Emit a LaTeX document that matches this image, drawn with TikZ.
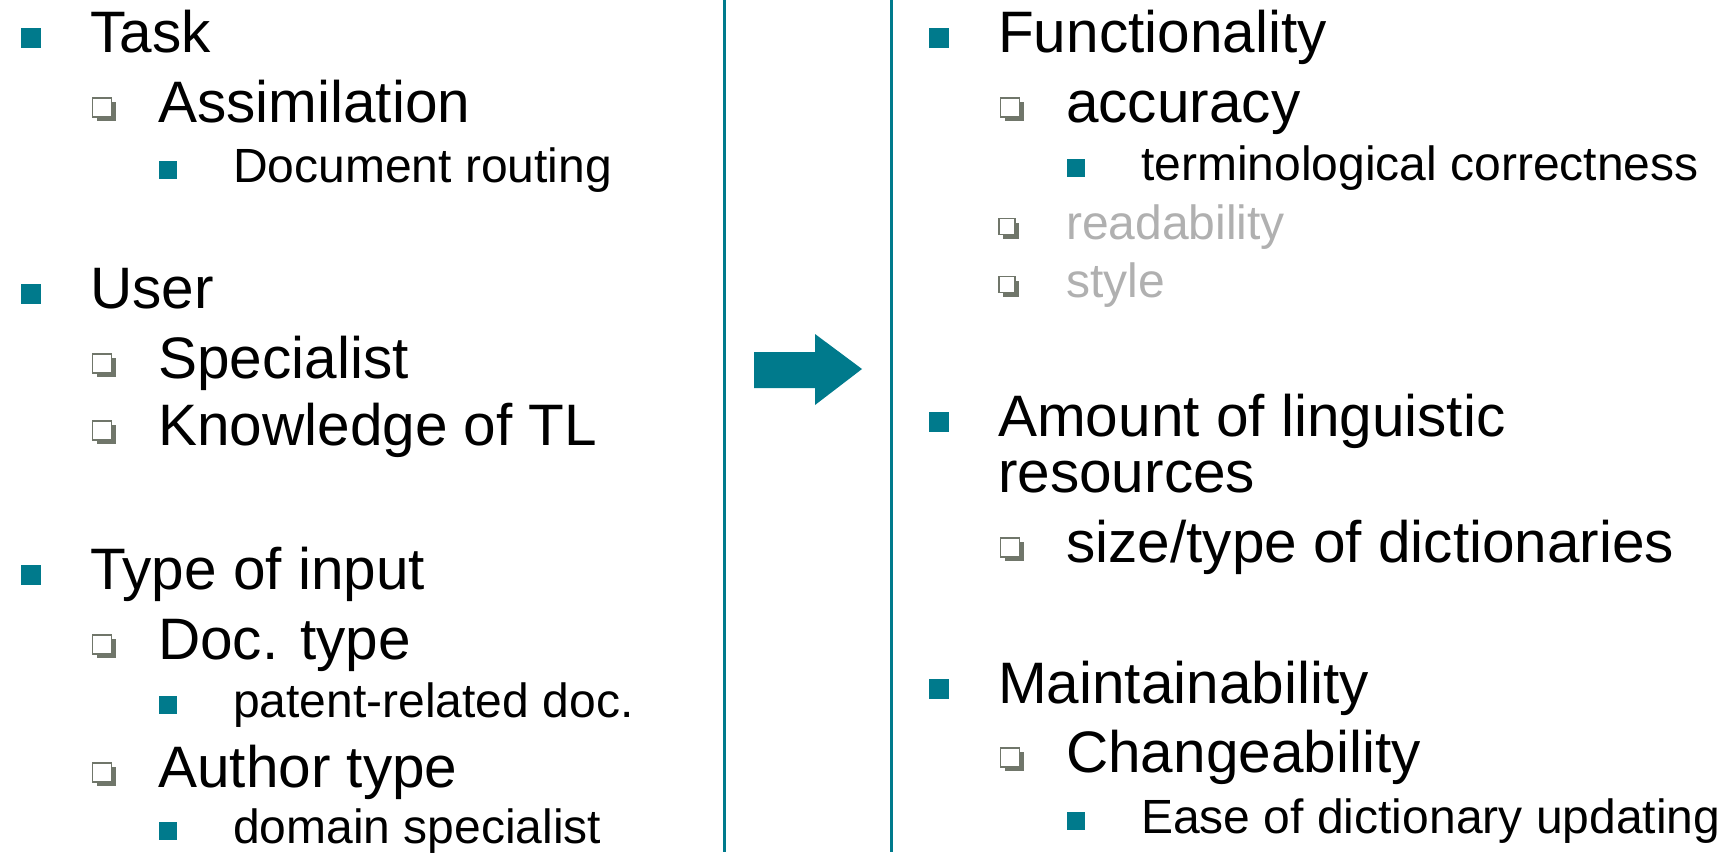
\documentclass[tikz,border=0pt]{standalone}
\usepackage{fontspec}
\setmainfont{Liberation Sans}
\usetikzlibrary{shadows}
\definecolor{tealc}{RGB}{0,122,140}
\definecolor{bgray}{RGB}{112,118,106}
\definecolor{lgray}{RGB}{176,176,176}
\begin{document}
\begin{tikzpicture}[x=1pt,y=-1pt,
  tA/.style={anchor=base west,inner sep=0,font=\fontsize{58.5}{70}\selectfont},
  tC/.style={anchor=base west,inner sep=0,font=\fontsize{48}{58}\selectfont},
  fbA/.style={fill=tealc,minimum size=20pt,inner sep=0},
  fbC/.style={fill=tealc,minimum size=17.5pt,inner sep=0},
  hbB/.style={draw=bgray,line width=1.3pt,fill=white,minimum size=19pt,inner sep=0,
    drop shadow={shadow xshift=4pt,shadow yshift=-4pt,fill=bgray,opacity=1}},
  hbS/.style={draw=bgray,line width=1.2pt,fill=white,minimum size=16pt,inner sep=0,
    drop shadow={shadow xshift=4pt,shadow yshift=-4pt,fill=bgray,opacity=1}},
  vline/.style={draw=tealc,line width=3pt}]
\useasboundingbox (0,0) rectangle (1728,852);
\fill[white] (0,0) rectangle (1728,852);
% left column
\node[fbA] (b1) at (30.5,38) {};
\node[tA] (task) at (90,52) {Task};
\node[hbB] (b2) at (102,107.5) {};
\node[tA] (assim) at (158,122) {Assimilation};
\node[fbC] (b3) at (168,170) {};
\node[tC] (docr) at (233,182) {Document routing};
\node[fbA] (b4) at (30.5,294) {};
\node[tA] (user) at (90,308) {User};
\node[hbB] (b5) at (102,363.5) {};
\node[tA] (spec) at (158,378) {Specialist};
\node[hbB] (b6) at (102,430.5) {};
\node[tA] (know) at (158,445) {Knowledge of TL};
\node[fbA] (b7) at (30.5,575) {};
\node[tA] (toi) at (90,589) {Type of input};
\node[hbB] (b8) at (102,644.5) {};
\node[tA] (doct) at (158,659) {Doc. type};
\node[fbC] (b9) at (168,705) {};
\node[tC] (pat) at (233,717) {patent-related doc.};
\node[hbB] (b10) at (102,772.5) {};
\node[tA] (autht) at (158,787) {Author type};
\node[fbC] (b11) at (168,831) {};
\node[tC] (dom) at (233,843) {domain specialist};
% separators and arrow
\coordinate (l1t) at (724,0); \coordinate (l1b) at (724,852);
\coordinate (l2t) at (891,0); \coordinate (l2b) at (891,852);
\draw[vline] (l1t) -- (l1b);
\draw[vline] (l2t) -- (l2b);
\fill[tealc] (754,352) -- (815,352) -- (815,334) -- (862,369) -- (815,405) -- (815,388) -- (754,388) -- cycle;
% right column
\node[fbA] (r1) at (938.5,38) {};
\node[tA] (func) at (998,52) {Functionality};
\node[hbB] (r2) at (1010,107.5) {};
\node[tA] (acc) at (1066,122) {accuracy};
\node[fbC] (r3) at (1076,168) {};
\node[tC] (term) at (1141,180) {terminological correctness};
\node[hbS] (r4) at (1007,226.5) {};
\node[tC,text=lgray] (read) at (1066,239) {readability};
\node[hbS] (r5) at (1007,284.5) {};
\node[tC,text=lgray] (sty) at (1066,297) {style};
\node[fbA] (r6) at (938.5,422) {};
\node[tA] (amt) at (998,436) {Amount of linguistic};
\node[tA] (res) at (998,492) {resources};
\node[hbB] (r7) at (1010,547.5) {};
\node[tA] (size) at (1066,562) {size/type of dictionaries};
\node[fbA] (r8) at (938.5,689) {};
\node[tA] (maint) at (998,703) {Maintainability};
\node[hbB] (r9) at (1010,757.5) {};
\node[tA] (chg) at (1066,772) {Changeability};
\node[fbC] (r10) at (1076,821) {};
\node[tC] (ease) at (1141,833) {Ease of dictionary updating};
\end{tikzpicture}
\end{document}
